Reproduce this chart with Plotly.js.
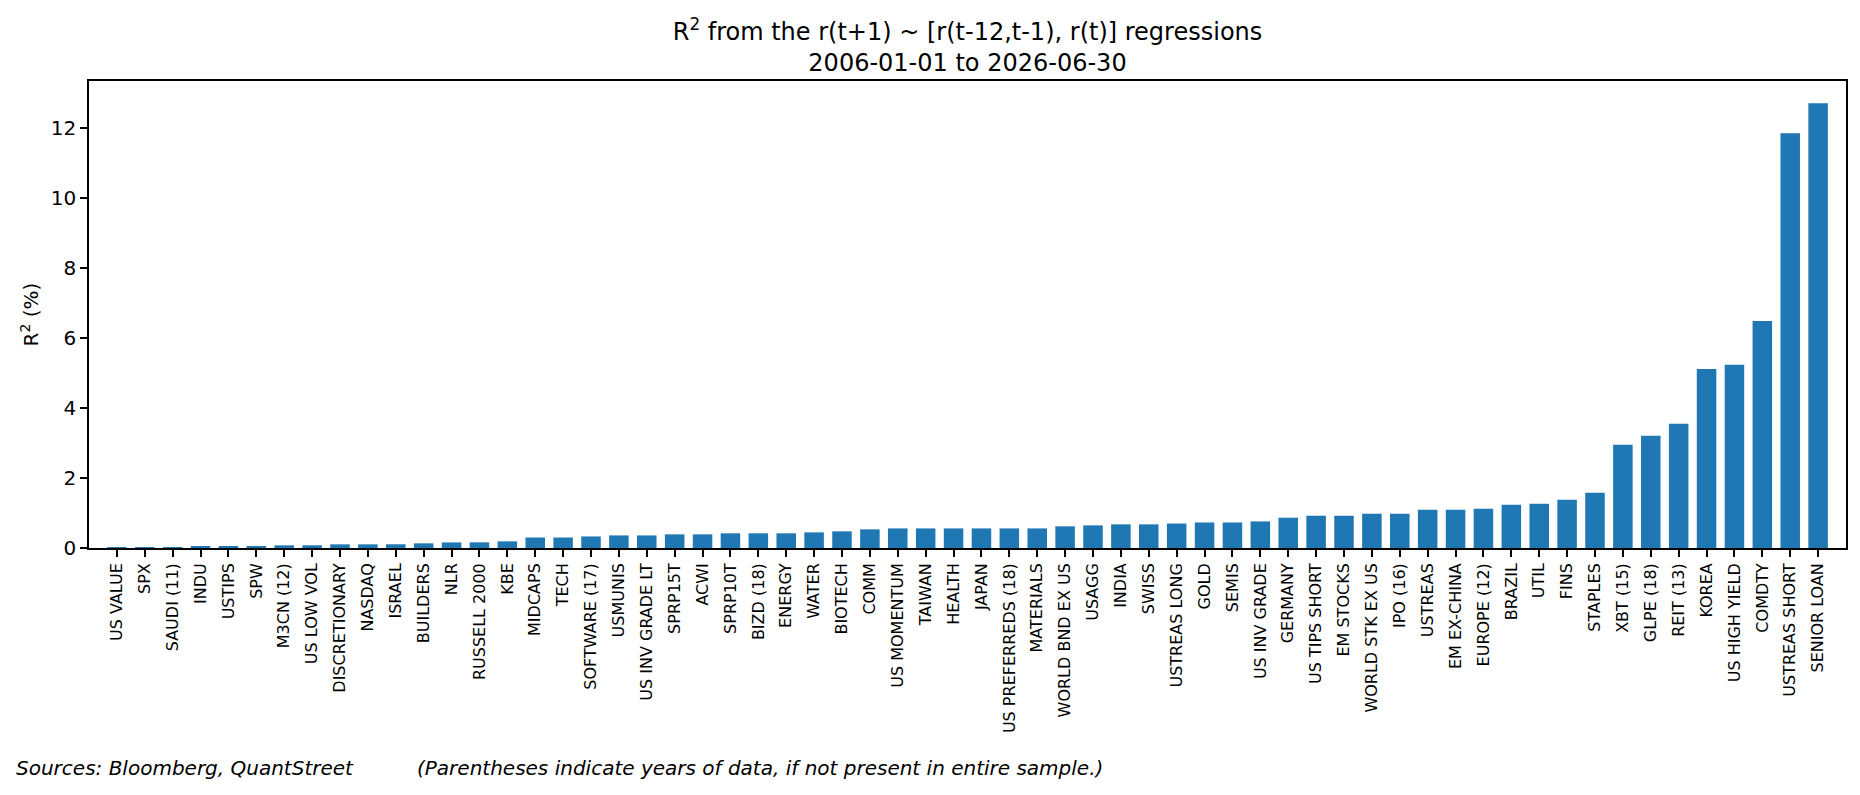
<!DOCTYPE html>
<html>
<head>
<meta charset="utf-8">
<script src="https://cdn.plot.ly/plotly-3.0.1.min.js"></script>
<style>
html,body{margin:0;padding:0;background:#fff;}
#chart{width:1860px;height:795px;}
</style>
</head>
<body>
<div id="chart"></div>
<script>
const categories = ["US VALUE","SPX","SAUDI (11)","INDU","USTIPS","SPW","M3CN (12)","US LOW VOL","DISCRETIONARY","NASDAQ","ISRAEL","BUILDERS","NLR","RUSSELL 2000","KBE","MIDCAPS","TECH","SOFTWARE (17)","USMUNIS","US INV GRADE LT","SPRP15T","ACWI","SPRP10T","BIZD (18)","ENERGY","WATER","BIOTECH","COMM","US MOMENTUM","TAIWAN","HEALTH","JAPAN","US PREFERREDS (18)","MATERIALS","WORLD BND EX US","USAGG","INDIA","SWISS","USTREAS LONG","GOLD","SEMIS","US INV GRADE","GERMANY","US TIPS SHORT","EM STOCKS","WORLD STK EX US","IPO (16)","USTREAS","EM EX-CHINA","EUROPE (12)","BRAZIL","UTIL","FINS","STAPLES","XBT (15)","GLPE (18)","REIT (13)","KOREA","US HIGH YIELD","COMDTY","USTREAS SHORT","SENIOR LOAN"];
const r2Values = [0.003,0.02,0.025,0.048,0.05,0.05,0.076,0.078,0.105,0.105,0.107,0.133,0.16,0.162,0.19,0.30,0.30,0.33,0.36,0.36,0.39,0.39,0.42,0.42,0.42,0.447,0.476,0.533,0.56,0.56,0.56,0.56,0.56,0.56,0.62,0.647,0.676,0.676,0.70,0.73,0.73,0.76,0.866,0.923,0.923,0.98,0.98,1.094,1.094,1.123,1.237,1.265,1.38,1.58,2.95,3.21,3.55,5.12,5.24,6.49,11.86,12.72];
const yTicks = [0,2,4,6,8,10,12];
const titleText = "R<sup>2</sup> from the r(t+1) ~ [r(t-12,t-1), r(t)] regressions<br>2006-01-01 to 2026-06-30";
const yTitleText = "R<sup>2</sup> (%)";
const sourceText = "Sources: Bloomberg, QuantStreet";
const noteText = "(Parentheses indicate years of data, if not present in entire sample.)";

const xIdx = categories.map((_, i) => i);
const F = "DejaVu Sans, sans-serif";

const trace = {
  type: "bar",
  x: xIdx,
  y: r2Values,
  width: 0.7,
  marker: {color: "#1f77b4", line: {width: 0}},
  hoverinfo: "x+y"
};

const plotW = 1757, plotH = 467.5;
const layout = {
  width: 1860, height: 795,
  margin: {l: 89, r: 14, t: 81, b: 246.5, pad: 0},
  paper_bgcolor: "#fff", plot_bgcolor: "#fff",
  showlegend: false,
  font: {family: F, color: "#000", size: 17},
  title: {text: titleText, font: {family: F, size: 24, color: "#000"}, x: 0.5, xref: "paper", xanchor: "center", y: 1 - 40/795, yanchor: "middle"},
  xaxis: {
    range: [-1, 62],
    tickmode: "array", tickvals: xIdx, ticktext: categories,
    tickangle: -90,
    tickfont: {family: F, size: 16, color: "#000"},
    ticks: "outside", ticklen: 7, tickwidth: 1.6, tickcolor: "#000",
    showline: true, linecolor: "#000", linewidth: 1.6, mirror: true,
    showgrid: false, zeroline: false, automargin: false
  },
  yaxis: {
    range: [0, 13.356],
    tickmode: "array", tickvals: yTicks, ticktext: yTicks.map(String),
    tickfont: {family: F, size: 20, color: "#000"},
    ticks: "outside", ticklen: 7, tickwidth: 1.6, tickcolor: "#000",
    showline: true, linecolor: "#000", linewidth: 1.6, mirror: true,
    showgrid: false, zeroline: false, automargin: false
  },
  annotations: [
    {xref: "paper", yref: "paper", x: (29 - 89) / plotW, y: 0.5, xanchor: "center", yanchor: "middle", textangle: -90, showarrow: false, text: yTitleText, font: {family: F, size: 20, color: "#000"}},
    {xref: "paper", yref: "paper", x: (14 - 89) / plotW, y: -(769 - 548.5) / plotH, xanchor: "left", yanchor: "middle", showarrow: false, text: "<i>" + sourceText + "</i>", font: {family: F, size: 20, color: "#000"}},
    {xref: "paper", yref: "paper", x: (415 - 89) / plotW, y: -(769 - 548.5) / plotH, xanchor: "left", yanchor: "middle", showarrow: false, text: "<i>" + noteText + "</i>", font: {family: F, size: 20, color: "#000"}}
  ]
};

Plotly.newPlot("chart", [trace], layout, {displayModeBar: false, responsive: false});
</script>
</body>
</html>
